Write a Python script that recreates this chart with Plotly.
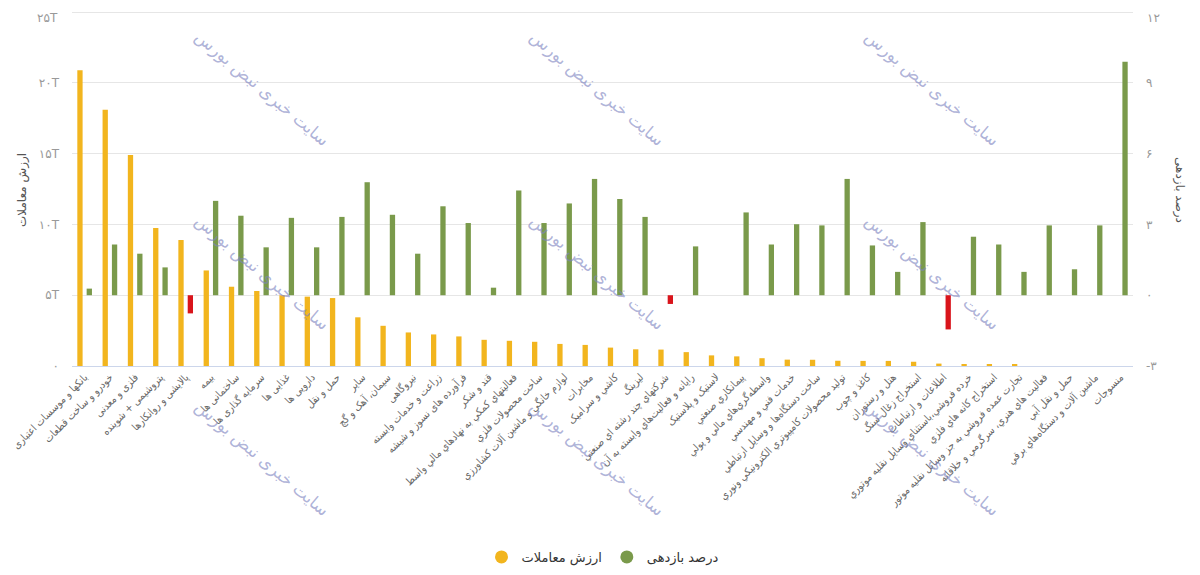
import plotly.graph_objects as go

categories = [
    "بانکها و موسسات اعتباری",
    "خودرو و ساخت قطعات",
    "فلزی و معدنی",
    "پتروشیمی + شوینده",
    "پالایشی و روانکارها",
    "بیمه",
    "ساختمانی ها",
    "سرمایه گذاری ها",
    "غذایی ها",
    "دارویی ها",
    "حمل و نقل",
    "سایر",
    "سیمان، آهک و گچ",
    "نیروگاهی",
    "زراعت و خدمات وابسته",
    "فرآورده های نسوز و شیشه",
    "قند و شکر",
    "فعالیتهاي کمکي به نهادهاي مالي واسط",
    "ساخت محصولات فلزي",
    "لوازم خانگي و ماشين آلات کشاورزي",
    "مخابرات",
    "کاشي و سراميک",
    "ليزينگ",
    "شرکتهاي چند رشته اي صنعتي",
    "رايانه و فعاليت‌هاي وابسته به آن",
    "لاستيک و پلاستيک",
    "پيمانکاري صنعتي",
    "واسطه‌گري‌هاي مالي و پولي",
    "خدمات فني و مهندسي",
    "ساخت دستگاه‌ها و وسايل ارتباطي",
    "توليد محصولات کامپيوتري الکترونيکي ونوري",
    "کاغذ و چوب",
    "هتل و رستوران",
    "استخراج زغال سنگ",
    "اطلاعات و ارتباطات",
    "خرده فروشي،باستثناي وسايل نقليه موتوري",
    "استخراج کانه هاي فلزي",
    "تجارت عمده فروشي به جز وسايل نقليه موتور",
    "فعاليت هاي هنري، سرگرمي و خلاقانه",
    "حمل و نقل آبي",
    "ماشين آلات و دستگاه‌هاي برقي",
    "منسوجات",
]

# trade value (T = trillion)
trade_value = [
    20.9, 18.1, 14.9, 9.75, 8.9, 6.75, 5.6, 5.3, 5.0, 4.9,
    4.8, 3.44, 2.84, 2.37, 2.23, 2.09, 1.85, 1.78, 1.71, 1.56,
    1.49, 1.3, 1.18, 1.16, 0.98, 0.75, 0.68, 0.55, 0.45, 0.44,
    0.37, 0.36, 0.36, 0.3, 0.17, 0.1, 0.08, 0.08, 0.0, 0.0,
    0.0, 0.0,
]

# return percent
return_pct = [
    0.28, 2.15, 1.76, 1.18, -0.77, 4.0, 3.37, 2.03, 3.28, 2.03,
    3.32, 4.79, 3.41, 1.76, 3.77, 3.06, 0.32, 4.44, 3.06, 3.89,
    4.93, 4.08, 3.32, -0.37, 2.07, 0.0, 3.51, 2.15, 3.01, 2.96,
    4.93, 2.11, 0.99, 3.10, -1.45, 2.48, 2.15, 0.99, 2.96, 1.10,
    2.96, 9.9,
]

left_tickvals = [0, 5, 10, 15, 20, 25]
left_ticktext = ["۰", "۵T", "۱۰T", "۱۵T", "۲۰T", "۲۵T"]
right_tickvals = [-3, 0, 3, 6, 9, 12]
right_ticktext = ["-۳", "۰", "۳", "۶", "۹", "۱۲"]

YELLOW = "#F2B51E"
GREEN = "#7A9A4B"
RED = "#D9141B"
FONT = "DejaVu Sans"
LABEL_FONT = "DejaVu Sans Condensed, DejaVu Sans"

green_colors = [GREEN if v >= 0 else RED for v in return_pct]

fig = go.Figure()
fig.add_trace(go.Bar(
    x=categories, y=trade_value, name="ارزش معاملات",
    marker=dict(color=YELLOW, line=dict(width=0)),
    width=0.21, offset=-0.29, yaxis="y", showlegend=False,
))
fig.add_trace(go.Bar(
    x=categories, y=return_pct, name="درصد بازدهی",
    marker=dict(color=green_colors, line=dict(width=0)),
    width=0.21, offset=0.08, yaxis="y2", showlegend=False,
))
# legend entries (circle symbols)
fig.add_trace(go.Scatter(x=[None], y=[None], mode="markers", name="ارزش معاملات",
                         marker=dict(color=YELLOW, size=13, symbol="circle")))
fig.add_trace(go.Scatter(x=[None], y=[None], mode="markers", name="درصد بازدهی",
                         marker=dict(color=GREEN, size=13, symbol="circle")))

# page has an 8px body margin; work in window pixels and convert
OFF = 8
W, H = 1184, 559
Y1 = [0, 25.15]
Y2 = [-3, 12 + 0.15 * 15 / 25]
PL, PR, PB = 72, 1133, 366
PT = PB - 354 * Y1[1] / 25          # so that 25 lands at window y=12
L, R, T, B = PL - OFF, W - (PR - OFF), PT - OFF, H - (PB - OFF)
pw, ph = PR - PL, PB - PT


def px2paper(px, py):
    return (px - PL) / pw, (PB - py) / ph


wm_x = [262, 597, 932]
wm_y = [88, 272, 458]
annotations = []
for py in wm_y:
    for px in wm_x:
        ax, ay = px2paper(px, py)
        annotations.append(dict(
            text="سایت خبری نبض بورس", xref="paper", yref="paper",
            x=ax, y=ay, showarrow=False,
            textangle=40, font=dict(family=FONT, size=17, color="rgba(125,132,192,0.62)"),
            xanchor="center", yanchor="middle",
        ))
ax, ay = px2paper(22, 190)
annotations.append(dict(text="ارزش معاملات", xref="paper", yref="paper",
                        x=ax, y=ay, showarrow=False,
                        textangle=-90, font=dict(family=FONT, size=12, color="#555"),
                        xanchor="center", yanchor="middle"))
ax, ay = px2paper(1180, 190)
annotations.append(dict(text="درصد بازدهی", xref="paper", yref="paper",
                        x=ax, y=ay, showarrow=False,
                        textangle=90, font=dict(family=FONT, size=12, color="#555"),
                        xanchor="center", yanchor="middle"))

# top tick labels sit right at the page edge; draw them as annotations just inside it
ax, ay = px2paper(60, 9)
annotations.append(dict(text=left_ticktext[-1], xref="paper", yref="paper", x=ax, y=ay,
                        showarrow=False, xanchor="right", yanchor="top",
                        font=dict(family=FONT, size=12, color="#999")))
ax, ay = px2paper(1145, 9)
annotations.append(dict(text=right_ticktext[-1], xref="paper", yref="paper", x=ax, y=ay,
                        showarrow=False, xanchor="left", yanchor="top",
                        font=dict(family=FONT, size=12, color="#999")))
left_shown = left_ticktext[:-1] + [""]
right_shown = right_ticktext[:-1] + [""]

lx, ly = px2paper(600, 557)

fig.update_layout(
    width=W, height=H,
    margin=dict(l=L, r=R, t=T, b=B, autoexpand=False),
    plot_bgcolor="white", paper_bgcolor="white",
    barmode="overlay",
    font=dict(family=FONT, color="#666"),
    xaxis=dict(
        type="category", tickangle=-45, tickfont=dict(family=LABEL_FONT, size=10.5, color="#666"),
        showgrid=False, showline=True, linecolor="#ccd6eb", linewidth=1,
        ticks="", range=[-0.5, len(categories) - 0.5], automargin=False,
    ),
    yaxis=dict(
        range=Y1, tickvals=left_tickvals, ticktext=left_shown,
        showgrid=True, gridcolor="#e6e6e6", zeroline=False, automargin=False,
        tickfont=dict(size=12, color="#999"), ticklabelstandoff=12,
    ),
    yaxis2=dict(
        range=Y2, tickvals=right_tickvals, ticktext=right_shown,
        overlaying="y", side="right", showgrid=False, zeroline=False, automargin=False,
        tickfont=dict(size=12, color="#999"), ticklabelstandoff=12,
    ),
    legend=dict(orientation="h", x=0.5, xanchor="center", y=ly,
                yanchor="middle", font=dict(family=FONT, size=13, color="#333"),
                itemwidth=30, traceorder="normal"),
    annotations=annotations,
)

fig.write_html("out.html")
